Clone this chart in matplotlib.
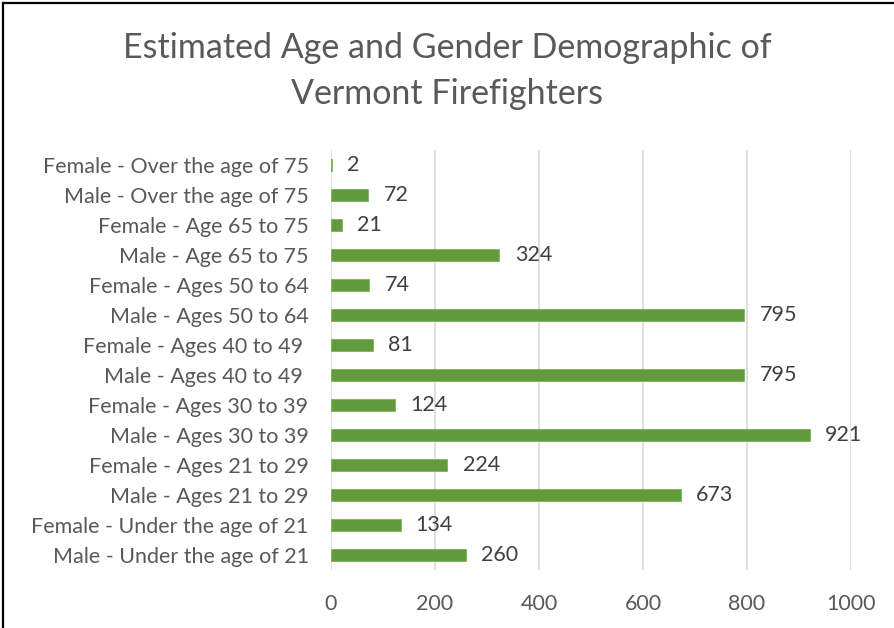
import matplotlib
matplotlib.use("Agg")
import matplotlib.pyplot as plt
from matplotlib.lines import Line2D

plt.rcParams["font.family"] = ["Lato", "DejaVu Sans"]

# bottom-to-top order, as drawn
categories = [
    "Male - Under the age of 21",
    "Female - Under the age of 21",
    "Male - Ages 21 to 29",
    "Female - Ages 21 to 29",
    "Male - Ages 30 to 39",
    "Female - Ages 30 to 39",
    "Male - Ages 40 to 49 ",
    "Female - Ages 40 to 49 ",
    "Male - Ages 50 to 64",
    "Female - Ages 50 to 64",
    "Male - Age 65 to 75",
    "Female - Age 65 to 75",
    "Male - Over the age of 75",
    "Female - Over the age of 75",
]
counts = [260, 134, 673, 224, 921, 124, 795, 81, 795, 74, 324, 21, 72, 2]
x_ticks = [0, 200, 400, 600, 800, 1000]

fig = plt.figure(figsize=(8.94, 6.28), dpi=100)
ax = fig.add_axes([0.370, 0.0924, 0.582, 0.6688])

ypos = list(range(len(categories)))
ax.barh(ypos, counts, height=0.38, color="#629A3E", edgecolor="#7CB35A", linewidth=0.6, zorder=3)

for y, v in zip(ypos, counts):
    ax.annotate(str(v), (v, y), xytext=(11, 0), textcoords="offset points",
                va="center", ha="left", fontsize=15.5, color="#404040")

ax.set_xlim(0, 1000)
ax.set_ylim(-0.5, len(categories) - 0.5)
ax.set_xticks(x_ticks)
ax.set_xticklabels([str(t) for t in x_ticks], fontsize=15.5, color="#595959")
ax.set_yticks(ypos)
ax.set_yticklabels(categories, fontsize=15.5, color="#595959")
ax.tick_params(axis="both", length=0)
ax.tick_params(axis="x", pad=17)
ax.tick_params(axis="y", pad=16)
ax.grid(axis="x", color="#D9D9D9", linewidth=1.2, zorder=0)
for s in ax.spines.values():
    s.set_visible(False)

fig.text(0.5, 0.924, "Estimated Age and Gender Demographic of", ha="center", va="center",
         fontsize=24.5, color="#595959")
fig.text(0.5, 0.850, "Vermont Firefighters", ha="center", va="center",
         fontsize=24.5, color="#595959")

# chart frame (left and top edges visible in the crop)
fig.add_artist(Line2D([0.0035, 0.0035], [0, 0.996], transform=fig.transFigure, color="black", linewidth=1.6))
fig.add_artist(Line2D([0.0035, 1.0], [0.996, 0.996], transform=fig.transFigure, color="black", linewidth=1.6))

fig.savefig("out.png", dpi=100)
